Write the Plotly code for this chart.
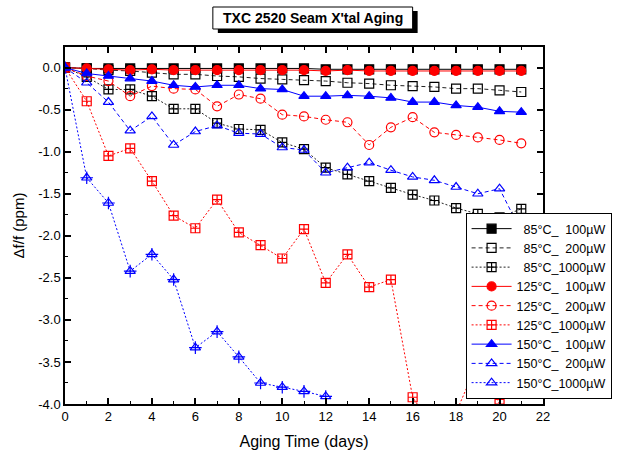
import plotly.graph_objects as go

days = list(range(22))
days_150_1000 = list(range(14))

t85_100 = [0, -0.01, -0.01, -0.01, -0.01, -0.01, -0.01, -0.01, -0.01, -0.01, -0.01,
           -0.01, -0.02, -0.02, -0.02, -0.02, -0.02, -0.02, -0.02, -0.02, -0.02, -0.02]
t85_200 = [0, -0.01, -0.03, -0.04, -0.06, -0.08, -0.08, -0.10, -0.11, -0.13, -0.14,
           -0.15, -0.16, -0.18, -0.19, -0.21, -0.22, -0.23, -0.25, -0.25, -0.27, -0.29]
t85_1000 = [0, -0.11, -0.26, -0.26, -0.34, -0.49, -0.49, -0.66, -0.73, -0.74, -0.89,
            -0.97, -1.19, -1.27, -1.35, -1.43, -1.51, -1.58, -1.67, -1.74, -1.78, -1.68]
t125_100 = [0, -0.01, -0.02, -0.03, -0.02, -0.03, -0.03, -0.03, -0.03, -0.03, -0.03,
            -0.03, -0.04, -0.03, -0.04, -0.04, -0.04, -0.04, -0.04, -0.04, -0.04, -0.04]
t125_200 = [0, -0.10, -0.16, -0.34, -0.22, -0.25, -0.26, -0.46, -0.32, -0.37, -0.56,
            -0.58, -0.62, -0.65, -0.92, -0.71, -0.59, -0.77, -0.80, -0.83, -0.86, -0.90]
t125_1000 = [0, -0.40, -1.05, -0.96, -1.35, -1.76, -1.91, -1.57, -1.96, -2.11, -2.27,
             -1.92, -2.56, -2.22, -2.61, -2.52, -3.92, -4.30, -4.10, -3.50, -4.00, -4.40]
t150_100 = [0, -0.07, -0.10, -0.13, -0.16, -0.21, -0.23, -0.21, -0.21, -0.25, -0.26,
            -0.34, -0.34, -0.33, -0.34, -0.36, -0.41, -0.41, -0.45, -0.47, -0.52, -0.53]
t150_200 = [0, -0.18, -0.41, -0.75, -0.58, -0.92, -0.76, -0.69, -0.78, -0.79, -0.95,
            -0.98, -1.25, -1.19, -1.13, -1.22, -1.30, -1.34, -1.42, -1.50, -1.44, -1.95]
t150_1000 = [0, -1.31, -1.61, -2.42, -2.22, -2.52, -3.33, -3.14, -3.44, -3.75, -3.80,
             -3.85, -3.91, -6.00]

names = ["\u200785°C_\u2007100µW", "\u200785°C_\u2007200µW", "\u200785°C_1000µW",
         "125°C_\u2007100µW", "125°C_\u2007200µW", "125°C_1000µW",
         "150°C_\u2007100µW", "150°C_\u2007200µW", "150°C_1000µW"]

yticks = [0.0, -0.5, -1.0, -1.5, -2.0, -2.5, -3.0, -3.5, -4.0]
yticktext = ["0.0", "-0.5", "-1.0", "-1.5", "-2.0", "-2.5", "-3.0", "-3.5", "-4.0"]

FONT = "Liberation Sans"
BLACK, RED, BLUE = "#000000", "#ff0000", "#0000ff"
SOLID, DASH, DOT = "solid", "4px,3px", "2px,2px"

series = [
    (days, t85_100, names[0], BLACK, SOLID, "square", BLACK),
    (days, t85_200, names[1], "#222222", DASH, "square-open", BLACK),
    (days, t85_1000, names[2], "#222222", DOT, "square-cross-open", BLACK),
    (days, t125_100, names[3], RED, SOLID, "circle", RED),
    (days, t125_200, names[4], RED, DASH, "circle-open", RED),
    (days, t125_1000, names[5], RED, DOT, "square-cross-open", RED),
    (days, t150_100, names[6], BLUE, SOLID, "triangle-up", BLUE),
    (days, t150_200, names[7], BLUE, DASH, "triangle-up-open", BLUE),
    (days_150_1000, t150_1000, names[8], BLUE, DOT, "triangle-up-open", BLUE),
]

fig = go.Figure()
for x, y, name, lc, dash, sym, mc in series:
    fig.add_trace(go.Scatter(
        x=x, y=y, name=name, mode="lines+markers",
        line=dict(color=lc, width=1, dash=dash),
        marker=dict(symbol=sym, size=9, color=mc, line=dict(color=mc, width=1.2)),
    ))
# cross inside the 150°C_1000µW triangles
fig.add_trace(go.Scatter(
    x=days_150_1000, y=t150_1000, mode="markers", showlegend=False, hoverinfo="skip",
    marker=dict(symbol="cross-thin-open", size=9, color=BLUE, line=dict(color=BLUE, width=1.2)),
))

L, R, T, B = 65, 74.5, 47, 55
W, H = 618, 459
pw, ph = W - L - R, H - T - B

def px(xp):
    return (xp - L) / pw

def py(yp):
    return (H - B - yp) / ph

shapes = [
    # title shadow and box
    dict(type="rect", xref="paper", yref="paper", x0=px(218), x1=px(418), y0=py(33), y1=py(11),
         fillcolor="black", line=dict(width=0), layer="above"),
    dict(type="rect", xref="paper", yref="paper", x0=px(213), x1=px(413), y0=py(29), y1=py(7),
         fillcolor="white", line=dict(color="black", width=1), layer="above"),
]

fig.update_layout(
    width=W, height=H,
    margin=dict(l=L, r=R, t=T, b=B, autoexpand=False),
    paper_bgcolor="white", plot_bgcolor="white",
    font=dict(family=FONT, size=13, color="black"),
    shapes=shapes,
    annotations=[dict(text="<b>TXC 2520 Seam X'tal Aging</b>", xref="paper", yref="paper",
                      x=px(313), y=py(18), xanchor="center", yanchor="middle", showarrow=False,
                      font=dict(family=FONT, size=14, color="black"))],
    legend=dict(x=px(466), y=py(213), xanchor="left", yanchor="top",
                bgcolor="white", bordercolor="black", borderwidth=1,
                font=dict(family=FONT, size=12.5), itemwidth=40, tracegroupgap=0),
    xaxis=dict(range=[0, 22], tickmode="linear", tick0=0, dtick=2,
               ticks="inside", ticklen=6, tickwidth=1.5, tickcolor="black",
               tickfont=dict(family=FONT, size=13),
               minor=dict(dtick=1, ticks="inside", ticklen=3, tickwidth=1, tickcolor="black"),
               showline=True, linecolor="black", linewidth=1.5, mirror="ticks",
               showgrid=False, zeroline=False,
               title=dict(text="Aging Time (days)", font=dict(family=FONT, size=16), standoff=12)),
    yaxis=dict(range=[-4, 0.245], tickmode="array", tickvals=yticks, ticktext=yticktext,
               ticks="inside", ticklen=6, tickwidth=1.5, tickcolor="black",
               tickfont=dict(family=FONT, size=13),
               minor=dict(tickmode="linear", tick0=0, dtick=0.25, ticks="inside", ticklen=3,
                          tickwidth=1, tickcolor="black"),
               showline=True, linecolor="black", linewidth=1.5, mirror="ticks",
               showgrid=False, zeroline=False,
               title=dict(text="Δf/f (ppm)", font=dict(family=FONT, size=15), standoff=10)),
)

fig.write_html("out.html")
